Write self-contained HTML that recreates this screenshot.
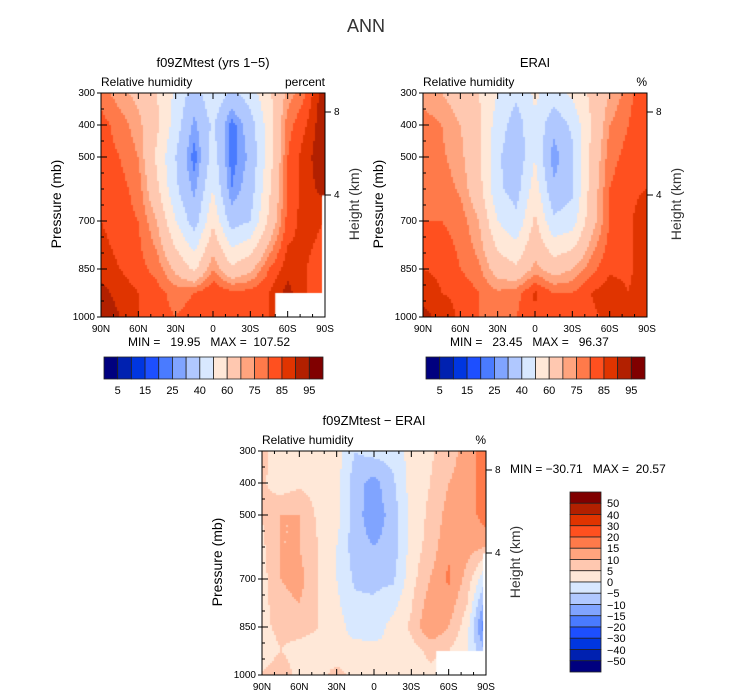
<!DOCTYPE html>
<html><head><meta charset="utf-8">
<style>
body{margin:0;background:#fff;width:733px;height:699px;overflow:hidden;position:relative;font-family:"Liberation Sans","DejaVu Sans",sans-serif;color:#000}
.t{position:absolute;white-space:pre;font-size:12px;line-height:12px}
canvas{position:absolute}
</style></head><body>
<div id="root"></div>
<script>
const lats=[90,75,60,45,30,15,0,-15,-30,-45,-60,-75,-90];
const plevs=[300,400,500,600,700,850,925,1000];
const rhModel=[
[78,72,68,60,48,35,48,38,45,58,72,80,95],
[82,78,72,62,45,28,42,22,35,55,78,85,95],
[82,80,75,58,40,22,45,22,32,55,80,88,95],
[82,82,78,62,42,28,50,25,35,58,80,88,92],
[85,82,80,70,50,35,58,35,40,62,82,88,85],
[88,85,82,78,68,58,75,62,68,80,88,85,80],
[92,88,85,82,78,80,85,82,82,85,92,85,80],
[95,90,85,82,80,82,82,82,85,85,85,85,85]];
const rhObs=[
[72,70,66,60,50,42,52,45,52,62,70,78,85],
[78,75,70,62,45,35,48,33,42,60,75,80,85],
[80,76,72,62,42,32,50,26,38,62,78,82,85],
[80,78,74,64,42,36,55,32,38,64,80,84,85],
[80,80,78,70,50,42,62,42,45,66,80,84,88],
[85,84,80,76,66,62,72,66,70,78,84,84,88],
[88,85,84,80,76,78,86,80,80,85,88,85,88],
[92,88,84,80,76,80,84,80,82,84,86,86,88]];
const rhDiff=[
[6,3,5,3,2,-5,-3,-3,2,4,8,12,18],
[6,2,4,3,2,-8,-12,-6,2,5,10,12,18],
[5,10,10,4,2,-8,-13,-8,2,6,12,12,18],
[4,10,10,5,0,-8,-10,-8,2,7,14,12,10],
[3,10,12,5,0,-6,-6,-6,3,10,16,8,-5],
[3,7,8,5,2,-2,-3,2,6,15,10,2,-20],
[0,5,2,2,0,2,2,0,3,6,5,0,-10],
[6,10,2,2,8,2,0,2,4,4,2,0,0]];
const levAbs=[5,10,15,20,25,30,40,50,60,70,75,80,85,90,95];
const levDiff=[-50,-40,-30,-20,-15,-10,-5,0,5,10,15,20,30,40,50];
const colors=["#00007f","#0021b0","#0036e0","#1d4fff","#4a7bff","#80a4ff","#b0c8ff","#d8e8ff","#ffe8d8","#ffc8b0","#ffa47e","#ff7a4a","#ff501f","#e03400","#b22000","#800000"];
const absLabels=["5","15","25","40","60","75","85","95"];
const diffLabels=["50","40","30","20","15","10","5","0","−5","−10","−15","−20","−30","−40","−50"];
const latLabels=["90N","60N","30N","0","30S","60S","90S"];
const pLabels=[300,400,500,700,850,1000];

const root=document.getElementById('root');
function txt(s,x,y,opts){
  const d=document.createElement('div');d.className='t';d.textContent=s;
  d.style.left=x+'px';d.style.top=y+'px';
  if(opts){for(const k in opts)d.style[k]=opts[k];}
  root.appendChild(d);return d;
}
function colorOf(v,lev){let i=0;while(i<lev.length&&v>=lev[i])i++;return colors[i];}
function val(data,lat,p){
  let fx=(90-lat)/15;let i=Math.min(Math.floor(fx),11);let tx=fx-i;
  let j=0;while(j<plevs.length-2&&p>plevs[j+1])j++;
  let ty=(p-plevs[j])/(plevs[j+1]-plevs[j]);
  const a=data[j][i],b=data[j][i+1],c=data[j+1][i],d=data[j+1][i+1];
  return a*(1-tx)*(1-ty)+b*tx*(1-ty)+c*(1-tx)*ty+d*tx*ty;
}
function panel(name,x0,y0,data,lev,title,unit,mask){
  const W=224,H=224;
  const xs=lat=>x0+(90-lat)/180*W, ys=p=>y0+(p-300)/700*H;
  const cv=document.createElement('canvas');cv.width=W;cv.height=H;
  cv.style.left=x0+'px';cv.style.top=y0+'px';
  
  
  root.appendChild(cv);
  const g=cv.getContext('2d');
  for(let py=0;py<H;py+=2)for(let px=0;px<W;px+=2){
    const lat=90-(px+1)/W*180,p=300+(py+1)/H*700;
    g.fillStyle=colorOf(val(data,lat,p),lev);g.fillRect(px,py,2,2);
  }
  g.fillStyle='#fff';
  if(mask){g.fillRect(xs(-50)-x0,ys(925)-y0,W,H);g.fillRect(W-3,ys(620)-y0,3,H);}
  const svg=document.createElementNS('http://www.w3.org/2000/svg','svg');
  svg.setAttribute('width',733);svg.setAttribute('height',699);
  svg.style.position='absolute';svg.style.left='0';svg.style.top='0';
  
  
  let s=`<rect x="${x0}" y="${y0}" width="${W}" height="${H}" fill="none" stroke="#000" stroke-width="1"/>`;
  for(let l=90;l>=-90;l-=10){const x=xs(l);const L=(l%30===0)?6:3;
    s+=`<line x1="${x}" y1="${y0}" x2="${x}" y2="${y0+L}" stroke="#000"/><line x1="${x}" y1="${y0+H}" x2="${x}" y2="${y0+H-L}" stroke="#000"/>`;}
  for(let p=300;p<=1000;p+=50){const y=ys(p);const L=(pLabels.includes(p))?6:3;
    s+=`<line x1="${x0}" y1="${y}" x2="${x0+L}" y2="${y}" stroke="#000"/>`;}
  pLabels.forEach(p=>{s+=`<line x1="${x0-4}" y1="${ys(p)}" x2="${x0}" y2="${ys(p)}" stroke="#000"/>`;});
  [[8,y0+19],[4,y0+102]].forEach(h=>{s+=`<line x1="${x0+W}" y1="${h[1]}" x2="${x0+W+6}" y2="${h[1]}" stroke="#000"/>`;});
  svg.innerHTML=s;root.appendChild(svg);
  latLabels.forEach((t,i)=>{const e=txt(t,xs(90-i*30)-15,y0+H+7,{width:'30px',textAlign:'center',fontSize:'10px'});
    });
  pLabels.forEach(p=>{const e=txt(String(p),x0-40,ys(p)-5,{width:'34px',textAlign:'right',fontSize:'10px'});
    });
  [[8,y0+19],[4,y0+102]].forEach(h=>{const e=txt(String(h[0]),x0+W+9,h[1]-5,{fontSize:'10px'});
    });
  let e=txt(title,x0,y0-36,{width:W+'px',textAlign:'center',fontSize:'13px'});
  
  e=txt('Relative humidity',x0,y0-17,{fontSize:'12px'});
  
  e=txt(unit,x0+W-60,y0-17,{width:'60px',textAlign:'right',fontSize:'12px'});
  
  e=txt('Pressure (mb)',x0-95,y0+H/2-7,{width:'100px',textAlign:'center',fontSize:'14px',transform:'rotate(-90deg)'});
  
  e=txt('Height (km)',x0+W-21,y0+H/2-7,{width:'100px',textAlign:'center',fontSize:'14px',transform:'rotate(-90deg)',color:'#333'});
  
}
function hbar(name,x0,y0){
  const W=219,H=22,n=colors.length,bw=W/n;
  const svg=document.createElementNS('http://www.w3.org/2000/svg','svg');
  svg.setAttribute('width',733);svg.setAttribute('height',699);
  svg.style.position='absolute';svg.style.left='0';svg.style.top='0';
  
  
  let s='';colors.forEach((c,i)=>{s+=`<rect x="${x0+i*bw}" y="${y0}" width="${bw}" height="${H}" fill="${c}" stroke="#222" stroke-width="0.8"/>`;});
  svg.innerHTML=s;root.appendChild(svg);
  absLabels.forEach((t,k)=>{const e=txt(t,x0+(2*k+1)*bw-12,y0+H+6,{width:'24px',textAlign:'center',fontSize:'11px'});
    });
}
function vbar(name,x0,y0){
  const W=31,H=180,n=colors.length,bh=H/n;
  const svg=document.createElementNS('http://www.w3.org/2000/svg','svg');
  svg.setAttribute('width',733);svg.setAttribute('height',699);
  svg.style.position='absolute';svg.style.left='0';svg.style.top='0';
  
  
  let s='';colors.slice().reverse().forEach((c,i)=>{s+=`<rect x="${x0}" y="${y0+i*bh}" width="${W}" height="${bh}" fill="${c}" stroke="#222" stroke-width="0.8"/>`;});
  svg.innerHTML=s;root.appendChild(svg);
  diffLabels.forEach((t,k)=>{const e=txt(t,x0+W+6,y0+(k+1)*bh-5,{fontSize:'11px'});
    });
}
let e=txt('ANN',316,20,{width:100+'px',textAlign:'center',fontSize:'18px',color:'#333'});

panel('model-panel',101,93,rhModel,levAbs,'f09ZMtest (yrs 1−5)','percent',true);
panel('obs-panel',423,93,rhObs,levAbs,'ERAI','%',false);
panel('diff-panel',262,451,rhDiff,levDiff,'f09ZMtest − ERAI','%',true);
e=txt('MIN =   19.95   MAX =  107.52',128,336,{fontSize:'12px'});

e=txt('MIN =   23.45   MAX =   96.37',450,336,{fontSize:'12px'});

e=txt('MIN = −30.71   MAX =  20.57',510,463,{fontSize:'12px'});

hbar('model-colorbar',104,357);
hbar('obs-colorbar',426,357);
vbar('diff-colorbar',570,492);
</script>
</body></html>
